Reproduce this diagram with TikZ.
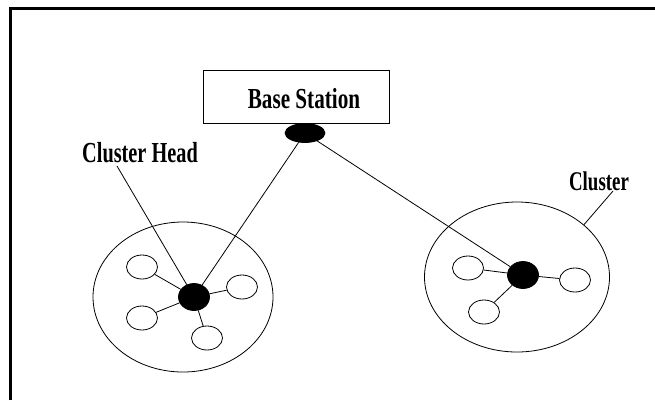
\documentclass[tikz,border=0pt]{standalone}
\usepackage{fontspec}
\setmainfont{Liberation Serif}
\usetikzlibrary{shapes.geometric}
\begin{document}
\begin{tikzpicture}[x=1pt,y=-1pt,
  line width=0.8pt,
  lbl/.style={font=\bfseries\fontsize{29}{29}\selectfont, inner sep=0pt, anchor=base},
  sensor/.style={draw, ellipse, minimum width=31pt, minimum height=24pt, inner sep=0pt},
  head/.style={draw, fill=black, ellipse, minimum width=31pt, minimum height=27pt, inner sep=0pt},
  cluster/.style={draw, ellipse, inner sep=0pt},
  bsbox/.style={draw, line width=1pt, minimum width=186pt, minimum height=53pt, inner sep=0pt},
  frame/.style={line width=3pt}]
\useasboundingbox (0,0) rectangle (655,400);
% frame
\coordinate (f1) at (10.5,400);
\coordinate (f2) at (10.5,8.5);
\coordinate (f3) at (655,8.5);
\draw[frame] (f1) -- (f2) -- (f3);
% base station
\node[bsbox] (bs) at (296,96.5) {};
\node[lbl] (bstext) at (304,108) {\scalebox{0.73}[1]{Base Station}};
\node[head, minimum width=40pt, minimum height=19pt] (bsh) at (305,133) {};
% left cluster
\node[cluster, minimum width=180pt, minimum height=150pt] (lcl) at (183,297) {};
\node[head] (lch) at (194,297) {};
\node[sensor] (l1) at (142,267) {};
\node[sensor] (l2) at (242,287) {};
\node[sensor] (l3) at (142,318) {};
\node[sensor] (l4) at (207,338) {};
% right cluster
\node[cluster, minimum width=185pt, minimum height=150pt] (rcl) at (517,277) {};
\node[head] (rch) at (523,275) {};
\node[sensor] (r1) at (468,268) {};
\node[sensor] (r2) at (575,280) {};
\node[sensor] (r3) at (484,312) {};
% labels
\node[lbl] (chl) at (140,162) {\scalebox{0.70}[1]{Cluster Head}};
\node[lbl, font=\bfseries\fontsize{27}{27}\selectfont] (cl) at (599,190) {\scalebox{0.7}[1]{Cluster}};
% connectors
\draw (bsh) -- (lch);
\draw (bsh) -- (rch);
\draw (lch) -- (l1);
\draw (lch) -- (l2);
\draw (lch) -- (l3);
\draw (lch) -- (l4);
\draw (rch) -- (r1);
\draw (rch) -- (r2);
\draw (rch) -- (r3);
\coordinate (chp) at (117,166);
\draw (chp) -- (lch);
\coordinate (cp) at (613,191);
\draw (cp) -- (rcl.38);
\end{tikzpicture}
\end{document}
